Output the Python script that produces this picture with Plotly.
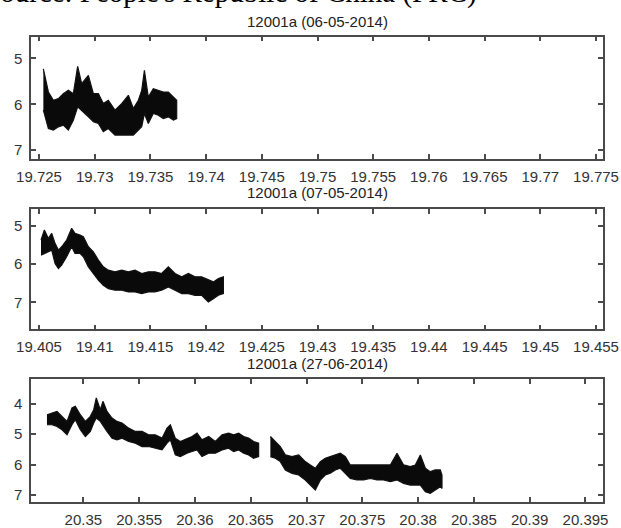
import plotly.graph_objects as go

# ---------------- data ----------------
titles = ["12001a (06-05-2014)", "12001a (07-05-2014)", "12001a (27-06-2014)"]
source_text = "Source: People's Republic of China (PRC)"

# Panel 1 : upper / lower envelope of the dense light-curve points
p1_x = [19.72539, 19.72584, 19.72629, 19.72674, 19.72718, 19.72763, 19.72808, 19.72847,
        19.72883, 19.72943, 19.72988, 19.73033, 19.73077, 19.73122, 19.73182, 19.73242,
        19.73302, 19.73347, 19.73392, 19.73422, 19.73446, 19.73481, 19.73526, 19.73571,
        19.73616, 19.73661, 19.73706, 19.73736]
p1_hi = [5.225, 5.732, 5.913, 5.877, 5.768, 5.696, 5.768, 5.174,
         5.551, 5.370, 5.768, 5.768, 5.986, 5.913, 6.130, 5.986,
         5.804, 6.094, 5.913, 5.696, 5.261, 5.841, 5.659, 5.696,
         5.732, 5.732, 5.841, 5.913]
p1_lo = [6.130, 6.529, 6.565, 6.493, 6.457, 6.565, 6.348, 6.058,
         6.130, 6.275, 6.384, 6.420, 6.601, 6.529, 6.674, 6.674,
         6.674, 6.674, 6.565, 6.493, 6.203, 6.420, 6.203, 6.239,
         6.312, 6.275, 6.348, 6.312]

# Panel 2
p2_x = [19.40518, 19.40548, 19.40584, 19.40614, 19.40644, 19.40674, 19.40703, 19.40748,
        19.40793, 19.40823, 19.40868, 19.40898, 19.40943, 19.40988, 19.41033, 19.41077,
        19.41122, 19.41182, 19.41242, 19.41302, 19.41362, 19.41422, 19.41481, 19.41541,
        19.41601, 19.41661, 19.41721, 19.41781, 19.41841, 19.41900, 19.41960, 19.42020,
        19.42065, 19.42110, 19.42155]
p2_hi = [5.368, 5.105, 5.325, 5.193, 5.456, 5.632, 5.544, 5.368,
         5.061, 5.193, 5.237, 5.281, 5.544, 5.675, 5.895, 6.070,
         6.158, 6.202, 6.158, 6.202, 6.158, 6.246, 6.202, 6.202,
         6.246, 6.070, 6.246, 6.333, 6.246, 6.333, 6.333, 6.421,
         6.465, 6.377, 6.333]
p2_lo = [5.763, 5.719, 5.675, 5.632, 5.982, 6.114, 6.026, 5.807,
         5.544, 5.719, 5.719, 5.807, 6.070, 6.246, 6.421, 6.553,
         6.640, 6.684, 6.684, 6.728, 6.728, 6.772, 6.728, 6.728,
         6.684, 6.596, 6.684, 6.772, 6.772, 6.816, 6.816, 6.991,
         6.904, 6.816, 6.772]

# Panel 3, first segment (before the data gap)
p3a_x = [20.34674, 20.34719, 20.34764, 20.34809, 20.34854, 20.34898, 20.34928, 20.34973,
         20.35018, 20.35063, 20.35093, 20.35116, 20.35152, 20.35176, 20.35212, 20.35257,
         20.35302, 20.35347, 20.35406, 20.35466, 20.35526, 20.35585, 20.35645, 20.35705,
         20.35750, 20.35780, 20.35824, 20.35869, 20.35929, 20.35974, 20.36019, 20.36063,
         20.36123, 20.36183, 20.36243, 20.36302, 20.36347, 20.36392, 20.36437, 20.36481,
         20.36526, 20.36571]
p3a_hi = [4.363, 4.308, 4.253, 4.418, 4.583, 4.143, 4.088, 4.363,
          4.583, 4.418, 4.198, 3.813, 4.198, 3.923, 4.253, 4.473,
          4.583, 4.638, 4.803, 4.913, 4.913, 5.023, 5.023, 5.133,
          4.803, 4.693, 5.133, 5.243, 5.133, 5.078, 4.968, 5.188,
          5.078, 5.243, 5.023, 4.968, 5.023, 4.968, 5.078, 5.133,
          5.243, 5.298]
p3a_lo = [4.693, 4.693, 4.748, 4.858, 5.023, 4.693, 4.528, 4.858,
          5.078, 4.913, 4.638, 4.473, 4.583, 4.693, 4.913, 5.133,
          5.188, 5.133, 5.243, 5.298, 5.408, 5.408, 5.463, 5.518,
          5.298, 5.188, 5.683, 5.738, 5.628, 5.573, 5.518, 5.738,
          5.628, 5.628, 5.518, 5.463, 5.573, 5.518, 5.628, 5.683,
          5.793, 5.738]

# Panel 3, second segment (after the data gap)
p3b_x = [20.36676, 20.36720, 20.36765, 20.36810, 20.36870, 20.36930, 20.36989, 20.37034,
         20.37079, 20.37124, 20.37168, 20.37213, 20.37258, 20.37303, 20.37348, 20.37392,
         20.37452, 20.37512, 20.37572, 20.37631, 20.37691, 20.37751, 20.37811, 20.37870,
         20.37930, 20.37975, 20.38020, 20.38065, 20.38109, 20.38154, 20.38199, 20.38214]
p3b_hi = [5.078, 5.243, 5.408, 5.683, 5.738, 5.683, 5.903, 6.013,
          6.123, 5.903, 5.793, 5.738, 5.683, 5.628, 5.738, 6.013,
          6.013, 6.013, 6.013, 6.013, 6.013, 6.013, 5.628, 6.013,
          6.068, 6.013, 5.683, 6.123, 6.233, 6.178, 6.178, 6.343]
p3b_lo = [5.738, 5.793, 5.903, 6.178, 6.288, 6.343, 6.508, 6.673,
          6.838, 6.508, 6.343, 6.288, 6.178, 6.123, 6.288, 6.453,
          6.508, 6.508, 6.453, 6.508, 6.508, 6.563, 6.508, 6.618,
          6.673, 6.673, 6.673, 6.893, 6.948, 6.838, 6.728, 6.783]

# axis ticks
x1_ticks = [19.725, 19.73, 19.735, 19.74, 19.745, 19.75, 19.755, 19.76, 19.765, 19.77, 19.775]
x1_text = ["19.725", "19.73", "19.735", "19.74", "19.745", "19.75", "19.755", "19.76", "19.765", "19.77", "19.775"]
x2_ticks = [19.405, 19.41, 19.415, 19.42, 19.425, 19.43, 19.435, 19.44, 19.445, 19.45, 19.455]
x2_text = ["19.405", "19.41", "19.415", "19.42", "19.425", "19.43", "19.435", "19.44", "19.445", "19.45", "19.455"]
x3_ticks = [20.35, 20.355, 20.36, 20.365, 20.37, 20.375, 20.38, 20.385, 20.39, 20.395]
x3_text = ["20.35", "20.355", "20.36", "20.365", "20.37", "20.375", "20.38", "20.385", "20.39", "20.395"]
y1_ticks = [5, 6, 7]
y2_ticks = [5, 6, 7]
y3_ticks = [4, 5, 6, 7]

x1_range = [19.72428, 19.77563]
x2_range = [19.40428, 19.45563]
x3_range = [20.34531, 20.39657]
y1_range = [7.196, 4.52]
y2_range = [7.707, 4.555]
y3_range = [7.23, 3.19]

# ---------------- figure ----------------
W, H = 621, 528
fig = go.Figure()


def band(xs, hi, lo, xa, ya):
    fig.add_trace(go.Scatter(
        x=list(xs) + list(xs)[::-1],
        y=list(hi) + list(lo)[::-1],
        mode="lines", fill="toself",
        fillcolor="#0a0a0a",
        line=dict(color="#111111", width=1.2),
        xaxis=xa, yaxis=ya, showlegend=False, hoverinfo="skip"))


band(p1_x, p1_hi, p1_lo, "x", "y")
band(p2_x, p2_hi, p2_lo, "x2", "y2")
band(p3a_x, p3a_hi, p3a_lo, "x3", "y3")
band(p3b_x, p3b_hi, p3b_lo, "x3", "y3")

tick_font = dict(family="Liberation Sans, Arial, sans-serif", size=15, color="#333333")
axis_common = dict(showline=True, linecolor="#4a4a4a", linewidth=1.5, mirror="ticks",
                   ticks="inside", ticklen=5, tickwidth=1.5, tickcolor="#4a4a4a",
                   showgrid=False, zeroline=False, tickfont=tick_font, automargin=False)

xdom = [31 / W, 603 / W]
panels = [  # (top px, bottom px)
    (36.5, 159.0),
    (209.0, 329.3),
    (379.0, 502.0),
]
ydoms = [[1 - b / H, 1 - t / H] for t, b in panels]

fig.update_layout(
    width=W, height=H, autosize=False,
    margin=dict(l=0, r=0, t=0, b=0, pad=0),
    paper_bgcolor="white", plot_bgcolor="white",
    xaxis=dict(domain=xdom, anchor="y", range=x1_range, tickvals=x1_ticks, ticktext=x1_text,
               ticklabelstandoff=3, **axis_common),
    yaxis=dict(domain=ydoms[0], anchor="x", range=y1_range, tickvals=y1_ticks,
               ticklabelstandoff=4, **axis_common),
    xaxis2=dict(domain=xdom, anchor="y2", range=x2_range, tickvals=x2_ticks, ticktext=x2_text,
                ticklabelstandoff=3, **axis_common),
    yaxis2=dict(domain=ydoms[1], anchor="x2", range=y2_range, tickvals=y2_ticks,
                ticklabelstandoff=4, **axis_common),
    xaxis3=dict(domain=xdom, anchor="y3", range=x3_range, tickvals=x3_ticks, ticktext=x3_text,
                ticklabelstandoff=3, **axis_common),
    yaxis3=dict(domain=ydoms[2], anchor="x3", range=y3_range, tickvals=y3_ticks,
                ticklabelstandoff=4, **axis_common),
)

title_font = dict(family="Liberation Sans, Arial, sans-serif", size=15, color="#222222")
title_centers = [21, 193, 363]
for t, yc in zip(titles, title_centers):
    fig.add_annotation(text=t, xref="paper", yref="paper", x=(xdom[0] + xdom[1]) / 2,
                       y=1 - yc / H, xanchor="center", yanchor="middle",
                       showarrow=False, font=title_font)

fig.add_annotation(text=source_text, xref="paper", yref="paper", x=-18 / W, y=1 - 11 / H,
                   xanchor="left", yanchor="bottom", showarrow=False,
                   font=dict(family="Liberation Serif, Times New Roman, serif", size=29,
                             color="black"))

# remove the browser's default 8px body margin so the figure sits at the page origin
fig.write_html("out.html", config={"displayModeBar": False},
               post_script="document.body.style.margin='0';document.body.style.padding='0';")
